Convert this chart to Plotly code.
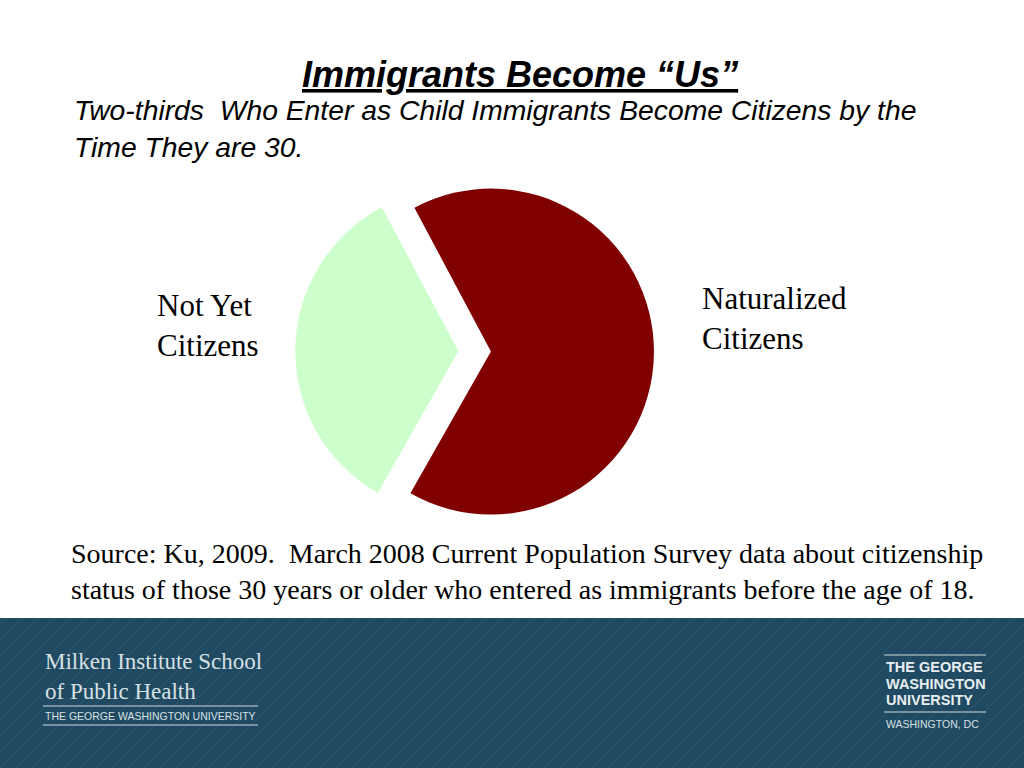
import plotly.graph_objects as go

labels = ["Naturalized Citizens", "Not Yet Citizens"]
values = [66, 34]
colors = ["#800000", "#ccffcc"]

fig = go.Figure(go.Pie(labels=labels, values=values, sort=False, direction="clockwise",
                       rotation=-28, pull=[0.1, 0.1], marker=dict(colors=colors),
                       textinfo="none", hoverinfo="label+value",
                       domain=dict(x=[0.288, 0.639], y=[0.309, 0.776])))

shapes = [dict(type="rect", xref="paper", yref="paper", x0=0, x1=1, y0=0, y1=1 - 618/768,
               fillcolor="#1f4a62", line=dict(width=0), layer="below")]
for i in range(-10, 70):
    x0 = i * 16
    shapes.append(dict(type="line", xref="x", yref="y", x0=x0, y0=768, x1=x0 + 150, y1=618,
                       line=dict(color="rgba(255,255,255,0.06)", width=1)))
for (y, x0, x1) in [(706, 43, 258), (725, 43, 258), (655, 884, 986), (712, 884, 986)]:
    shapes.append(dict(type="line", xref="x", yref="y", x0=x0, x1=x1, y0=y, y1=y,
                       line=dict(color="#d0d8dd", width=1)))

ann = []
def t(x, y, s, size, color="black", family="Liberation Serif", anchor="left", yanchor="middle"):
    ann.append(dict(x=x, y=y, xref="x", yref="y", text=s, showarrow=False, xanchor=anchor,
                    yanchor=yanchor, align="left", font=dict(size=size, color=color, family=family)))

t(520, 74, "<b><i><u>Immigrants Become “Us”</u></i></b>", 36, family="Liberation Sans", anchor="center")
t(72, 128, "<i>Two-thirds  Who Enter as Child Immigrants Become Citizens by the<br>Time They are 30.</i>", 28.3, family="Liberation Sans")
t(155, 325, "Not Yet<br>Citizens", 31)
t(700, 318, "Naturalized<br>Citizens", 31)
t(69, 571, "Source: Ku, 2009.  March 2008 Current Population Survey data about citizenship<br>status of those 30 years or older who entered as immigrants before the age of 18.", 28)
t(43, 676, "Milken Institute School<br>of Public Health", 23, color="#d8e0e4")
t(43, 716, "THE GEORGE WASHINGTON UNIVERSITY", 10.5, color="#d8e0e4", family="Liberation Sans")
t(884, 667, "<b>THE GEORGE</b>", 14.5, color="#e8eef0", family="Liberation Sans")
t(884, 684, "<b>WASHINGTON</b>", 14.5, color="#e8eef0", family="Liberation Sans")
t(884, 700, "<b>UNIVERSITY</b>", 14.5, color="#e8eef0", family="Liberation Sans")
t(884, 724, "WASHINGTON, DC", 10.5, color="#d8e0e4", family="Liberation Sans")

fig.update_layout(width=1024, height=768, margin=dict(l=0, r=0, t=0, b=0),
                  paper_bgcolor="white", plot_bgcolor="rgba(0,0,0,0)", showlegend=False,
                  xaxis=dict(range=[0, 1024], visible=False, fixedrange=True),
                  yaxis=dict(range=[768, 0], visible=False, fixedrange=True),
                  shapes=shapes, annotations=ann)
fig.write_html("out.html", config=dict(displayModeBar=False),
               post_script="document.body.style.margin='0';document.body.style.overflow='hidden';")
